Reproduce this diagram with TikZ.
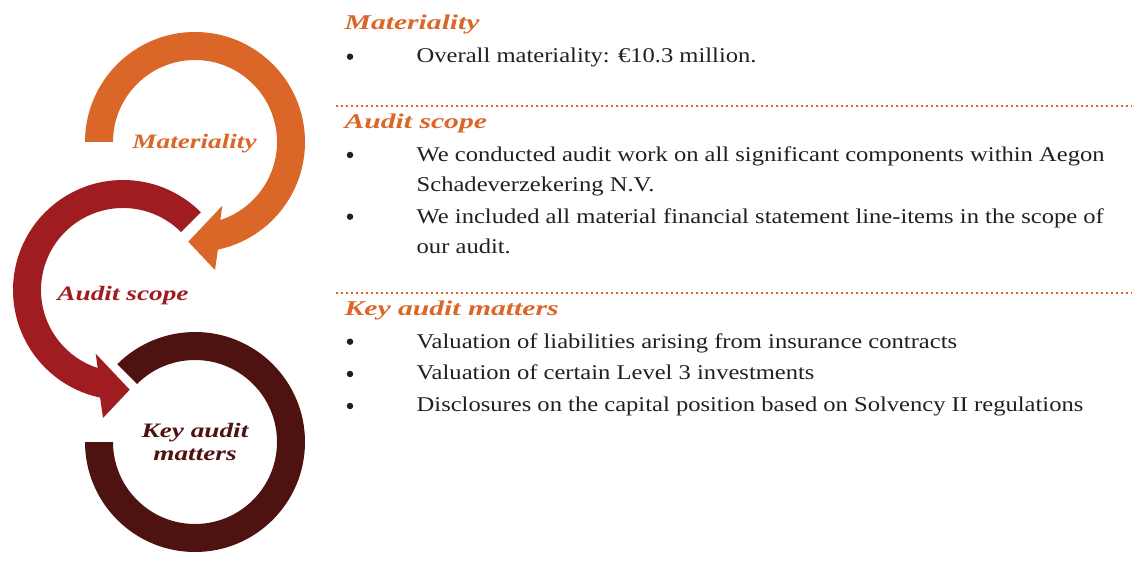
\documentclass[tikz,border=0pt]{standalone}
\usepackage{fontspec}
\setmainfont{Liberation Serif}
\newfontfamily\bodyfont[FakeStretch=1.17]{Liberation Serif}
\newfontfamily\headfont[FakeStretch=1.41]{Liberation Serif}
\newfontfamily\ringfont[FakeStretch=1.33]{Liberation Serif}
\usetikzlibrary{calc}
\definecolor{cOrange}{HTML}{DA6628}
\definecolor{cRed}{HTML}{9F1C20}
\definecolor{cDark}{HTML}{4E1210}
\definecolor{cText}{HTML}{231F20}
\begin{document}
\begin{tikzpicture}[x=1pt,y=-1pt,
  bodytext/.style={anchor=base west,inner sep=0,font=\bodyfont\fontsize{21}{24}\selectfont,text=cText},
  headtext/.style={anchor=base west,inner sep=0,font=\headfont\fontsize{21}{24}\selectfont\bfseries\itshape,text=cOrange},
  bulletdot/.style={circle,fill=cText,inner sep=0,minimum size=6.5pt},
  ringlabel/.style={font=\ringfont\fontsize{20.5}{23}\selectfont\bfseries\itshape,align=center,inner sep=0},
  sepline/.style={cOrange,line width=2pt,dash pattern=on 2pt off 3pt}]
\useasboundingbox (0,0) rectangle (1132,569);
\fill[white] (0,0) rectangle (1132,569);
% rings
\coordinate (oc) at (195,142);
\coordinate (rc) at (123,290);
\coordinate (dc) at (195,442);
\fill[cOrange] ($(oc)+(-180:110)$) arc[start angle=-180,end angle=78,radius=110]
  -- (215,270) -- (188.3,241.7) -- (222.3,205.7)
  -- ($(oc)+(72:82)$) arc[start angle=72,end angle=-180,radius=82] -- cycle;
\fill[cRed] ($(rc)+(-45:110)$) arc[start angle=-45,end angle=-258,radius=110]
  -- (103,418) -- (129.7,389.7) -- (95.7,353.7)
  -- ($(rc)+(-252:82)$) arc[start angle=-252,end angle=-45,radius=82] -- cycle;
\fill[cDark] ($(dc)+(-180:110)$) arc[start angle=-180,end angle=-495,radius=110]
  -- ($(dc)+(-495:82)$) arc[start angle=-495,end angle=-180,radius=82] -- cycle;
% ring labels
\node[ringlabel,text=cOrange,anchor=base] (lm) at (194.5,149) {Materiality};
\node[ringlabel,text=cRed,anchor=base] (la) at (123,300) {Audit scope};
\node[ringlabel,text=cDark,anchor=center] (lk) at (195,442) {Key audit\\matters};
% separators
\coordinate (s1a) at (336,106.5);
\coordinate (s1b) at (1132,106.5);
\coordinate (s2a) at (336,293);
\coordinate (s2b) at (1132,293);
\draw[sepline] (s1a) -- (s1b);
\draw[sepline] (s2a) -- (s2b);
% section 1
\node[headtext] (h1) at (344.5,30) {Materiality};
\node[bulletdot] (d1) at (350,56.7) {};
\node[bodytext] (t1) at (416.5,62.3) {Overall materiality: €10.3 million.};
% section 2
\node[headtext] (h2) at (344.5,128.3) {Audit scope};
\node[bulletdot] (d2) at (350,155) {};
\node[bodytext] (t2a) at (416.5,161.7) {We conducted audit work on all significant components within Aegon};
\node[bodytext] (t2b) at (416.5,191.7) {Schadeverzekering N.V.};
\node[bulletdot] (d3) at (350,216.7) {};
\node[bodytext] (t3a) at (416.5,223.3) {We included all material financial statement line-items in the scope of};
\node[bodytext] (t3b) at (416.5,253.3) {our audit.};
% section 3
\node[headtext] (h3) at (344.5,315) {Key audit matters};
\node[bulletdot] (d4) at (350,341.7) {};
\node[bodytext] (t4) at (416.5,348.3) {Valuation of liabilities arising from insurance contracts};
\node[bulletdot] (d5) at (350,374) {};
\node[bodytext] (t5) at (416.5,379.3) {Valuation of certain Level 3 investments};
\node[bulletdot] (d6) at (350,406) {};
\node[bodytext] (t6) at (416.5,411.7) {Disclosures on the capital position based on Solvency II regulations};
\end{tikzpicture}
\end{document}
